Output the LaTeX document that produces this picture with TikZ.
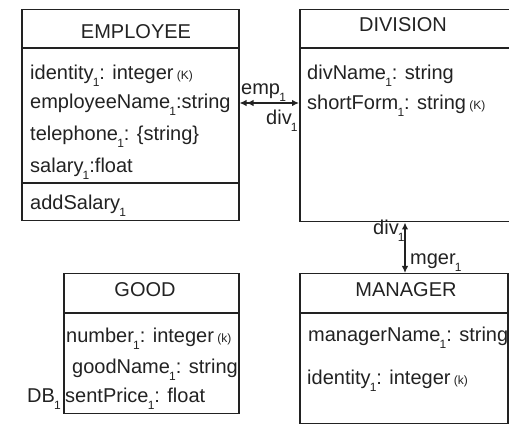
\documentclass[tikz,border=0pt]{standalone}
\usepackage{fontspec}
\setmainfont{Liberation Sans}
\usetikzlibrary{arrows.meta}
\definecolor{ink}{HTML}{222222}
% small lowered index digit and key marker
\newcommand\subone{\kern-0.8pt\raisebox{-7pt}{\fontsize{12}{12}\selectfont 1}}
\newcommand\keymark[1]{\,{\fontsize{12}{12}\selectfont(#1)}}
\begin{document}
\begin{tikzpicture}[x=1pt,y=-1pt,
  cls/.style={draw=ink, line width=1.5pt, anchor=north west, inner sep=0pt},
  txt/.style={anchor=base west, inner sep=0pt, text=ink, font=\fontsize{20}{24}\selectfont},
  ttl/.style={anchor=base, inner sep=0pt, text=ink, font=\fontsize{20}{24}\selectfont},
  rule/.style={draw=ink, line width=1.5pt},
  ht/.tip={Latex[length=7pt,width=6.5pt]},
  link/.style={draw=ink, line width=1.3pt}]
\useasboundingbox (0,0) rectangle (509,427);
\clip (0,0) rectangle (509,427);

% class boxes
\node[cls, minimum width=217pt, minimum height=211pt] (employee) at (21,9) {};
\node[cls, minimum width=220pt, minimum height=212pt] (division) at (299,9) {};
\node[cls, minimum width=175pt, minimum height=140pt] (good) at (63,273) {};
\node[cls, minimum width=208pt, minimum height=150pt] (manager) at (299,273) {};

% compartment rules
\draw[rule] (21,48) -- (238,48);
\draw[rule] (21,183) -- (238,183);
\draw[rule] (299,48) -- (509,48);
\draw[rule] (63,313) -- (238,313);
\draw[rule] (299,313) -- (507,313);

% titles
\node[ttl] (employeeT) at (136,39) {EMPLOYEE};
\node[ttl] (divisionT) at (403,32) {DIVISION};
\node[ttl] (goodT) at (145,297) {GOOD};
\node[ttl] (managerT) at (406,297) {MANAGER};

% EMPLOYEE members
\node[txt] (e1) at (30,80) {identity\subone: integer\keymark{K}};
\node[txt] (e2) at (30,109) {employeeName\subone:string};
\node[txt] (e3) at (30,141) {telephone\subone: \{string\}};
\node[txt] (e4) at (30,173) {salary\subone:float};
\node[txt] (e5) at (30,210) {addSalary\subone};

% DIVISION members
\node[txt] (d1) at (307,80) {divName\subone: string};
\node[txt] (d2) at (307,110) {shortForm\subone: string\keymark{K}};

% GOOD members
\node[txt] (g1) at (66,343) {number\subone: integer\keymark{k}};
\node[txt] (g2) at (72,374) {goodName\subone: string};
\node[txt] (g3) at (65,403) {sentPrice\subone: float};
\node[txt] (db) at (27,403) {DB\subone};

% MANAGER members
\node[txt] (m1) at (308,342) {managerName\subone: string};
\node[txt] (m2) at (307,385) {identity\subone: integer\keymark{k}};

% connectors
\coordinate (hy) at (0,103);
\coordinate (vx) at (405,0);
\draw[link, {ht[]ht[]}-{ht[]}] (employee.east |- hy) -- (division.west |- hy);
\draw[link, {ht[]}-{ht[]}] (division.south -| vx) -- (manager.north -| vx);

% role labels
\node[txt] (r1) at (241,95) {emp\subone};
\node[txt] (r2) at (266,125) {div\subone};
\node[txt] (r3) at (373,235) {div\subone};
\node[txt] (r4) at (410,265) {mger\subone};
\end{tikzpicture}
\end{document}
